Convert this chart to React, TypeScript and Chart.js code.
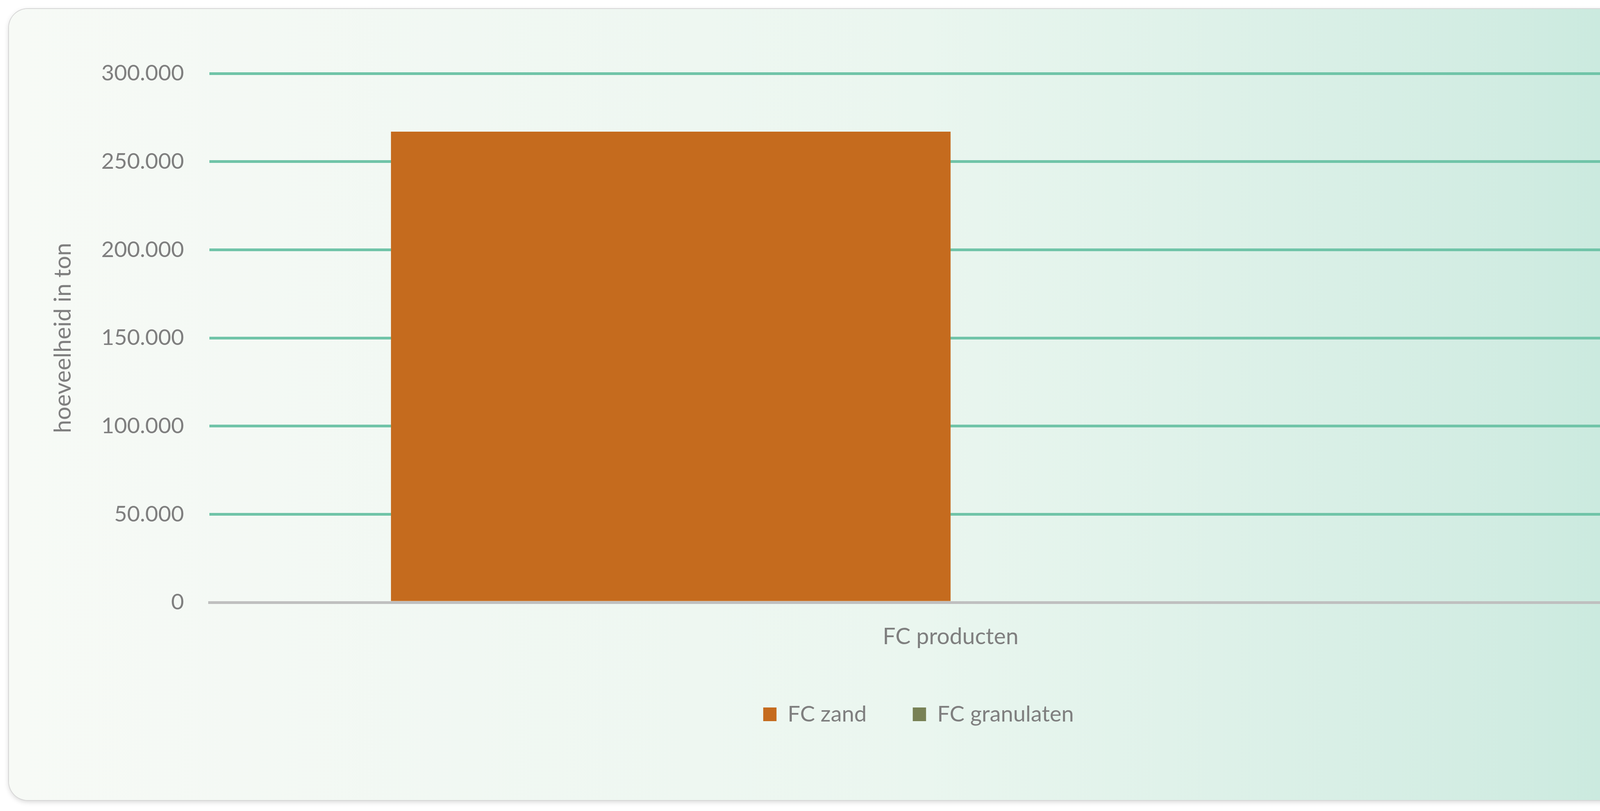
import { useEffect, useRef } from "react"
import { Chart, registerables } from "chart.js"

Chart.register(...registerables)

const categories = ["FC producten"]
const seriesNames = ["FC zand", "FC granulaten"]
const fcZand = [267000]
const fcGranulaten = [0]
const yTicks = [0, 50000, 100000, 150000, 200000, 250000, 300000]
const seriesColors = ["#c56b1e", "#788155"]

const textColor = "#7f7f7f"
const fontFamily = "Lato, 'Open Sans', sans-serif"

// Dutch thousands separator: 300000 -> "300.000"
const formatNl = (v: number) => String(v).replace(/\B(?=(\d{3})+(?!\d))/g, ".")

// the legend in the original sits a bit left of the plot centre
const legendShift = {
  id: "legendShift",
  afterLayout(chart: Chart) {
    const legend = chart.legend
    if (!legend) return
    legend.left -= 82
    legend.right -= 82
  },
}

export default function App() {
  const chartRef = useRef<HTMLCanvasElement>(null)
  const chartInstance = useRef<Chart | null>(null)

  useEffect(() => {
    if (!chartRef.current) return
    if (chartInstance.current) chartInstance.current.destroy()
    const ctx = chartRef.current.getContext("2d")
    if (!ctx) return

    chartInstance.current = new Chart(ctx, {
      type: "bar",
      data: {
        labels: categories,
        datasets: [
          { label: seriesNames[0], data: fcZand, backgroundColor: seriesColors[0] },
          { label: seriesNames[1], data: fcGranulaten, backgroundColor: seriesColors[1] },
        ],
      },
      options: {
        responsive: true,
        maintainAspectRatio: false,
        animation: false,
        layout: { padding: { top: 165, right: 112, bottom: 181, left: 40 } },
        datasets: { bar: { categoryPercentage: 0.755, barPercentage: 1 } },
        plugins: {
          legend: {
            position: "bottom",
            fullSize: false,
            labels: {
              boxWidth: 34,
              boxHeight: 35,
              padding: 118,
              color: textColor,
              font: { family: fontFamily, size: 57 },
            },
          },
          tooltip: { enabled: false },
        },
        scales: {
          x: {
            z: 1,
            grid: { display: false },
            border: { display: true, color: "#bfbfbf", width: 7 },
            ticks: { padding: 45, color: textColor, font: { family: fontFamily, size: 58 } },
            afterFit: (scale: any) => {
              scale.height = 140
            },
          },
          y: {
            min: 0,
            max: 300000,
            afterBuildTicks: (scale: any) => {
              scale.ticks = yTicks.map((v) => ({ value: v }))
            },
            grid: {
              color: (c: any) => (c.tick && c.tick.value === 0 ? "rgba(0,0,0,0)" : "#70c4a8"),
              lineWidth: 7,
              drawTicks: false,
            },
            border: { display: false },
            ticks: {
              padding: 65,
              color: textColor,
              font: { family: fontFamily, size: 57 },
              callback: (v: any) => formatNl(Number(v)),
            },
            title: {
              display: true,
              text: "hoeveelheid in ton",
              color: textColor,
              font: { family: fontFamily, size: 60 },
              padding: { top: 63, bottom: 0 },
            },
            afterFit: (scale: any) => {
              scale.width = 473
            },
          },
        },
      },
      plugins: [legendShift],
    })

    return () => {
      if (chartInstance.current) {
        chartInstance.current.destroy()
        chartInstance.current = null
      }
    }
  }, [])

  return (
    <div style={{ position: "fixed", inset: 0, background: "#ffffff" }}>
      <div
        style={{
          position: "absolute",
          left: 23,
          top: 23,
          width: 4420,
          height: 2025,
          borderRadius: 48,
          overflow: "hidden",
          background:
            "linear-gradient(90deg, #f7faf6 0%, #eef7f1 40%, #eaf6ef 53%, #e0f2ea 67%, #d1ece2 87%, #c2e7da 100%)",
          boxShadow: "0 0 0 2px #d6d6d6, 0 4px 14px rgba(0,0,0,0.18)",
        }}
      >
        <canvas ref={chartRef} />
      </div>
    </div>
  )
}
